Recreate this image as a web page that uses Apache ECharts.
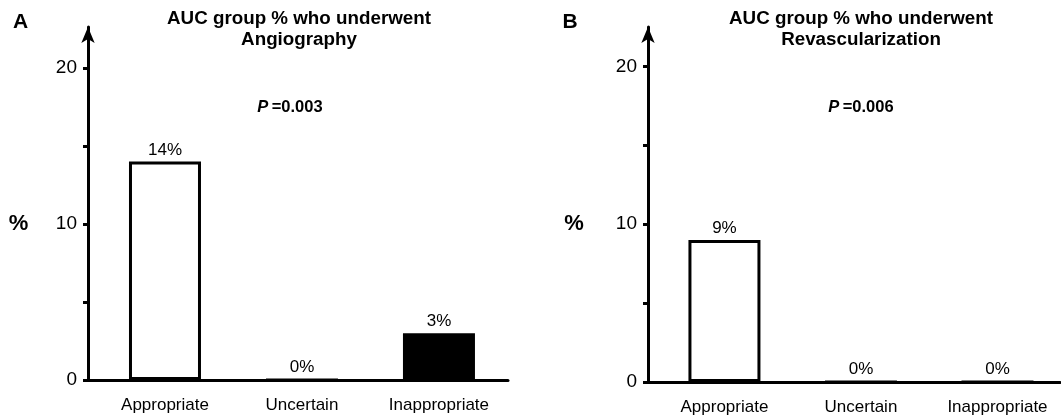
<!DOCTYPE html>
<html><head><meta charset="utf-8">
<script src="https://cdn.jsdelivr.net/npm/echarts@6/dist/echarts.min.js"></script>
<style>html,body{margin:0;padding:0;background:#fff}#c{width:1061px;height:417px}</style>
</head><body><div id="c"></div>
<script>
const categories = ['Appropriate', 'Uncertain', 'Inappropriate'];
const angiographyValues = [14, 0, 3];
const revascularizationValues = [9, 0, 0];
const yTickValues = [0, 5, 10, 15, 20];
const yLabelValues = [0, 10, 20];
const barFills = ['#ffffff', '#ffffff', '#000000'];
const panelTitleLine1 = ['AUC group % who underwent', 'AUC group % who underwent'];
const panelTitleLine2 = ['Angiography', 'Revascularization'];
const pValues = ['0.003', '0.006'];
const panelLetters = ['A', 'B'];
const yAxisName = '%';

const FONT = 'Liberation Sans, Arial, Helvetica, sans-serif';
const panels = [
  {grid: {left: 88, top: 27, width: 420, height: 353}, yMax: 22.63, xMin: -0.562, xMax: 2.504,
   values: angiographyValues, titleX: 299, pX: 290, letterX: 20.5, pctX: 18.5},
  {grid: {left: 648, top: 27, width: 412, height: 355}, yMax: 22.5, xMin: -0.56, xMax: 2.458,
   values: revascularizationValues, titleX: 861, pX: 861, letterX: 570, pctX: 574}
];

const chart = echarts.init(document.getElementById('c'), null, {renderer: 'canvas'});
const option = {
  backgroundColor: '#ffffff',
  animation: false,
  textStyle: {fontFamily: FONT},
  grid: panels.map(p => Object.assign({containLabel: false}, p.grid)),
  xAxis: panels.map((p, i) => ({
    type: 'value', gridIndex: i, min: p.xMin, max: p.xMax,
    axisLine: {show: true, onZero: false, lineStyle: {color: '#000', width: 3}},
    axisTick: {show: false},
    splitLine: {show: false},
    axisLabel: {
      customValues: categories.map((c, k) => k),
      formatter: v => categories[Math.round(v)],
      fontSize: 17, color: '#000', margin: 17, fontFamily: FONT
    }
  })),
  yAxis: panels.map((p, i) => ({
    type: 'value', gridIndex: i, min: 0, max: p.yMax,
    axisLine: {show: true, onZero: false, lineStyle: {color: '#000', width: 3}, symbol: ['none', 'arrow'], symbolSize: [10, 16]},
    axisTick: {show: true, inside: false, length: 5, lineStyle: {color: '#000', width: 3}, customValues: yTickValues},
    axisLabel: {customValues: yLabelValues, fontSize: 19, color: '#000', margin: 11, fontFamily: FONT},
    splitLine: {show: false}
  })),
  series: panels.map((p, i) => ({
    type: 'bar', xAxisIndex: i, yAxisIndex: i, barWidth: 72,
    data: p.values.map((v, k) => ({value: [k, v], itemStyle: {color: barFills[k]}})),
    itemStyle: {borderColor: '#000', borderWidth: 3},
    label: {show: true, position: 'top', distance: 3, color: '#000', fontSize: 17, fontFamily: FONT,
            formatter: q => q.value[1] + '%'}
  })),
  graphic: panels.flatMap((p, i) => [
    {type: 'text', x: p.letterX, y: 22.5, style: {text: panelLetters[i], font: 'bold 21px ' + FONT, fill: '#000', align: 'center', verticalAlign: 'middle'}},
    {type: 'text', x: p.titleX, y: 18.5, style: {text: panelTitleLine1[i], font: 'bold 18.8px ' + FONT, fill: '#000', align: 'center', verticalAlign: 'middle'}},
    {type: 'text', x: p.titleX, y: 40, style: {text: panelTitleLine2[i], font: 'bold 18.8px ' + FONT, fill: '#000', align: 'center', verticalAlign: 'middle'}},
    {type: 'text', x: p.pX, y: 107, style: {
      text: '{i|P} {b|=' + pValues[i] + '}', align: 'center', verticalAlign: 'middle', fill: '#000',
      rich: {i: {font: 'italic bold 16.5px ' + FONT, fill: '#000'}, b: {font: 'bold 16.5px ' + FONT, fill: '#000'}}
    }},
    {type: 'text', x: p.pctX, y: 224, style: {text: yAxisName, font: 'bold 22px ' + FONT, fill: '#000', align: 'center', verticalAlign: 'middle'}}
  ])
};
chart.setOption(option);
</script>
</body></html>
